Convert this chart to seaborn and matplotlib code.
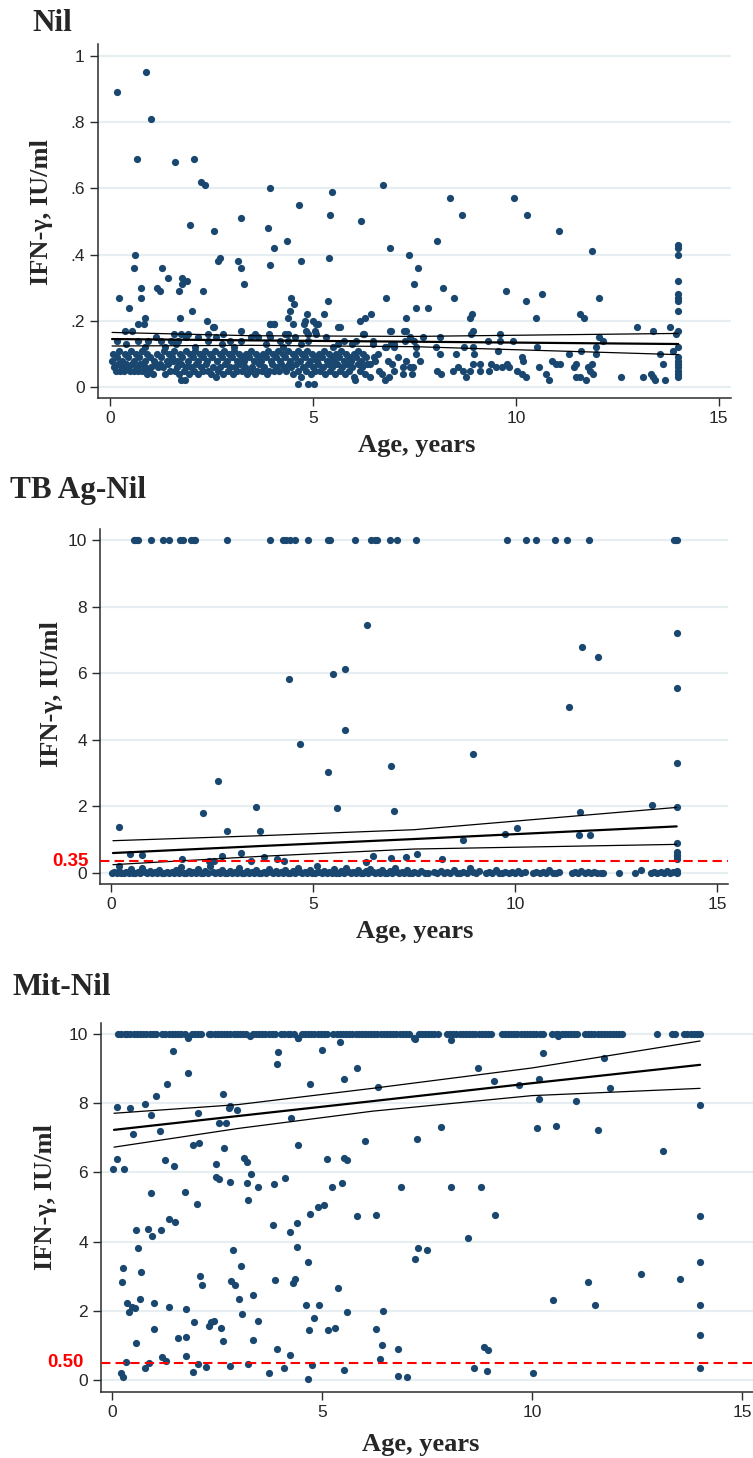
import numpy as np
import pandas as pd
import seaborn as sns
import matplotlib.pyplot as plt
import matplotlib.transforms as mtransforms

W, H = 753, 1458
NAVY = '#1a476f'
GRID = '#e6eef1'

# ---------------- Nil ----------------
nil_outliers = [
    (0.16, .89), (0.89, .95), (1.0, .81), (0.67, .69), (1.6, .68), (2.06, .69), (2.23, .62), (2.34, .61),
    (1.97, .49), (2.55, .47), (3.22, .51), (3.94, .60), (3.89, .48), (4.05, .42), (3.94, .37), (4.37, .44),
    (4.65, .55), (4.71, .38), (5.47, .59), (5.42, .52), (5.39, .39), (5.37, .26), (6.18, .50), (0.62, .40),
    (0.58, .36), (0.21, .27), (0.48, .24), (0.76, .27), (0.76, .30), (1.28, .36), (1.43, .33), (1.15, .30),
    (1.23, .29), (1.78, .33), (1.89, .32), (1.78, .31), (1.69, .29), (2.30, .29), (2.66, .38), (2.71, .39),
    (3.16, .38), (3.22, .36), (3.31, .31), (2.03, .23), (1.73, .21), (0.87, .21), (0.69, .19), (0.83, .19),
    (2.38, .20), (2.55, .18), (4.45, .27), (4.54, .25), (4.44, .23), (4.38, .21), (4.52, .19), (4.85, .22),
    (4.80, .20), (5.26, .22), (5.66, .18), (6.44, .22), (6.15, .20), (6.29, .21), (3.93, .19), (4.05, .19),
    (5.01, .20), (5.12, .19), (0.38, .17), (0.55, .17), (4.62, .01), (4.89, .01), (5.02, .01), (1.75, .02),
    (1.85, .02), (6.03, .02), (6.4, .03), (6.93, .17), (7.24, .17),
    (1.58, .16), (1.76, .16), (1.92, .16), (2.41, .16), (2.54, .18), (2.78, .16), (3.23, .17), (3.56, .16),
    (3.91, .16), (3.93, .19), (4.03, .19), (4.3, .16), (4.38, .16), (5.62, .18), (6.23, .16),
    (4.79, .19), (4.83, .17), (4.87, .16), (5.08, .19), (5.04, .17),
]
nil_mid = [
    (0.16, .14), (0.69, .14), (0.94, .14), (1.14, .15), (1.26, .14), (1.35, .12), (1.51, .14), (1.67, .14),
    (1.88, .15), (2.09, .12), (2.17, .15), (2.41, .14), (2.62, .15), (2.95, .14), (3.23, .14), (3.48, .15),
    (3.64, .15), (3.93, .15), (4.2, .14), (4.26, .12), (4.38, .14), (4.55, .15), (4.88, .14), (5.08, .16),
    (5.33, .15), (5.62, .13), (5.76, .14), (6.07, .14), (6.27, .16), (6.48, .14), (6.77, .12), (6.93, .13),
    (7.26, .14), (7.5, .14), (0.4, .13), (0.85, .12), (1.62, .13), (2.75, .13), (3.05, .12), (3.85, .13),
    (4.7, .13), (5.5, .12), (5.95, .13),
]
nil_low = [
    (0.05, .08), (0.1, .06), (0.14, .05), (0.2, .07), (0.25, .05), (0.3, .06), (0.35, .05), (0.4, .07),
    (0.45, .06), (0.5, .05), (0.55, .07), (0.6, .05), (0.66, .06), (0.7, .05), (0.75, .07), (0.8, .05),
    (0.85, .06), (0.9, .04), (0.95, .05), (1.0, .06), (1.05, .04), (1.12, .07), (1.18, .06), (1.22, .07),
    (1.3, .06), (1.36, .04), (1.42, .07), (1.48, .05), (1.55, .08), (1.6, .05), (1.65, .06), (1.7, .04),
    (1.75, .07), (1.82, .05), (1.88, .06), (1.94, .04), (2.0, .06), (2.06, .05), (2.12, .07), (2.18, .04),
    (2.25, .06), (2.3, .05), (2.36, .07), (2.42, .05), (2.48, .04), (2.54, .06), (2.6, .03), (2.66, .05),
    (2.72, .06), (2.78, .04), (2.84, .07), (2.9, .05), (2.96, .06), (3.02, .04), (3.08, .06), (3.14, .05),
    (3.2, .07), (3.26, .05), (3.32, .06), (3.38, .04), (3.44, .05), (3.5, .06), (3.56, .04), (3.62, .05),
    (3.68, .07), (3.74, .05), (3.8, .06), (3.86, .04), (3.92, .05), (3.98, .07), (4.04, .05), (4.1, .06),
    (4.16, .05), (4.22, .07), (4.28, .06), (4.34, .05), (4.4, .07), (4.46, .06), (4.52, .04), (4.58, .07),
    (4.64, .05), (4.7, .03), (4.76, .06), (4.82, .05), (4.88, .07), (4.94, .04), (5.0, .06), (5.06, .05),
    (5.12, .07), (5.18, .05), (5.24, .06), (5.3, .04), (5.36, .07), (5.42, .05), (5.48, .06), (5.54, .04),
    (5.6, .07), (5.66, .05), (5.72, .06), (5.78, .04), (5.84, .07), (5.9, .05), (5.96, .06), (6.02, .03),
    (6.1, .07), (6.16, .05), (6.22, .06), (6.28, .04), (6.34, .07),
    (0.08, .1), (0.16, .09), (0.22, .11), (0.3, .08), (0.38, .1), (0.44, .09), (0.52, .11), (0.58, .08),
    (0.64, .1), (0.72, .09), (0.78, .11), (0.86, .08), (0.92, .1), (0.98, .09), (1.08, .08), (1.15, .1),
    (1.25, .09), (1.33, .11), (1.4, .08), (1.46, .1), (1.52, .09), (1.58, .11), (1.64, .08), (1.72, .1),
    (1.78, .09), (1.86, .11), (1.92, .08), (1.98, .1), (2.04, .09), (2.1, .11), (2.16, .08), (2.22, .1),
    (2.28, .09), (2.34, .11), (2.4, .08), (2.46, .1), (2.52, .09), (2.58, .11), (2.64, .08), (2.7, .1),
    (2.76, .09), (2.82, .11), (2.88, .08), (2.94, .1), (3.0, .09), (3.06, .11), (3.12, .08), (3.18, .1),
    (3.24, .09), (3.3, .08), (3.36, .1), (3.42, .09), (3.48, .11), (3.54, .08), (3.6, .1), (3.66, .09),
    (3.72, .08), (3.78, .1), (3.84, .09), (3.9, .11), (3.96, .08), (4.02, .1), (4.08, .09), (4.14, .11),
    (4.2, .08), (4.26, .1), (4.32, .09), (4.38, .11), (4.44, .08), (4.5, .1), (4.56, .09), (4.62, .11),
    (4.68, .08), (4.74, .1), (4.8, .09), (4.86, .11), (4.92, .08), (4.98, .1), (5.04, .09), (5.1, .08),
    (5.16, .1), (5.22, .09), (5.28, .11), (5.34, .08), (5.4, .1), (5.46, .09), (5.52, .08), (5.58, .1),
    (5.64, .09), (5.7, .11), (5.76, .08), (5.82, .1), (5.88, .09), (5.94, .08), (6.0, .1), (6.06, .09),
    (6.12, .11), (6.18, .08), (6.24, .1), (6.3, .09),
]
nil_right = [
    (6.73, .61), (6.89, .42), (6.79, .27), (7.36, .40), (7.60, .36), (7.48, .31), (7.55, .24), (7.83, .24),
    (8.06, .44), (8.38, .57), (8.68, .52), (8.21, .30), (8.48, .27), (8.91, .22), (8.88, .21), (7.29, .21),
    (9.96, .57), (10.28, .52), (9.75, .29), (10.25, .26), (10.64, .28), (10.49, .21), (11.06, .47), (11.88, .41),
    (12.05, .27), (11.57, .22), (11.67, .21), (12.99, .18), (13.39, .17), (13.79, .18), (13.86, .11), (13.95, .16),
    (6.89, .17), (7.29, .17), (7.4, .15), (7.7, .15), (8.12, .15), (8.94, .17), (8.89, .16), (9.6, .16),
    (9.32, .14), (9.93, .14), (9.6, .14), (12.05, .15), (12.15, .14), (11.98, .12), (11.98, .10), (11.6, .11),
    (11.3, .10), (10.53, .12), (9.55, .11), (13.54, .10), (7.55, .12), (7.54, .10), (8.04, .12), (8.13, .10),
    (8.52, .10), (8.73, .12), (8.94, .12), (8.98, .10), (6.99, .13), (6.99, .12), (6.79, .12), (6.47, .13),
    (6.5, .09), (6.52, .08), (6.4, .07), (6.85, .08), (6.94, .07), (7.29, .08), (7.22, .06), (7.38, .06),
    (7.46, .06), (7.63, .08), (6.99, .05), (6.87, .03), (6.77, .02), (6.63, .05), (7.21, .04), (8.05, .05),
    (8.16, .04), (8.46, .05), (8.58, .06), (8.70, .05), (8.78, .03), (8.86, .05), (8.94, .07), (9.11, .07),
    (9.11, .05), (9.33, .05), (9.39, .07), (9.50, .06), (9.67, .06), (9.78, .07), (9.84, .06), (10.03, .05),
    (10.14, .04), (10.16, .09), (10.18, .08), (10.26, .03), (10.57, .06), (10.74, .04), (10.81, .02), (10.9, .08),
    (11.0, .07), (11.08, .07), (11.43, .06), (11.49, .07), (11.49, .03), (11.59, .03), (11.72, .02), (11.78, .06),
    (11.82, .05), (11.88, .07), (11.9, .04), (12.58, .03), (13.14, .03), (13.34, .04), (13.38, .03), (13.43, .02),
    (13.63, .07), (13.67, .02), (6.6, .1), (6.7, .04), (7.1, .09), (7.45, .04),
    (14.0, .43), (14.0, .42), (14.0, .40), (14.0, .32), (14.0, .28), (14.0, .27), (14.0, .26), (14.0, .23),
    (14.0, .17), (14.0, .12), (14.0, .09), (14.0, .08), (14.0, .07), (14.0, .06), (14.0, .05), (14.0, .04),
    (14.0, .03),
]
nil_fit_age = [0.05, 3.5, 7.5, 14.0]
nil_fit = [0.145, 0.141, 0.137, 0.130]
nil_lo = [0.124, 0.126, 0.122, 0.098]
nil_hi = [0.165, 0.155, 0.153, 0.162]

# ---------------- TB Ag-Nil ----------------
tb_capped_age = [0.56, 0.6, 0.64, 0.68, 0.99, 1.29, 1.44, 1.72, 1.78, 1.98, 2.05, 2.09, 2.88, 3.94, 4.26,
                 4.34, 4.42, 4.55, 4.88, 5.36, 5.43, 6.03, 6.44, 6.53, 6.58, 6.9, 7.07, 7.54, 9.79, 10.26,
                 10.52, 11.0, 11.29, 11.84, 13.94, 13.98, 14.0]
tb_outliers = [
    (0.21, 1.37), (0.48, .57), (0.77, .55), (2.29, 1.80), (2.66, 2.77), (2.88, 1.26), (2.76, .52), (3.23, .60),
    (3.59, 1.97), (3.69, 1.26), (3.8, .48), (3.47, .35), (4.1, .42), (4.29, .35), (4.41, 5.83), (4.69, 3.87),
    (5.38, 3.02), (5.5, 5.99), (5.6, 1.94), (5.8, 6.13), (5.8, 4.29), (6.34, 7.44), (6.49, .52), (6.3, .32),
    (1.76, .42), (2.42, .35), (2.54, .35), (6.92, 3.22), (7.01, 1.85), (8.95, 3.58), (8.71, 1.0), (9.74, 1.18),
    (10.06, 1.34), (11.34, 4.97), (11.65, 6.79), (12.05, 6.49), (11.6, 1.82), (11.59, 1.14), (11.86, 1.14),
    (13.39, 2.05), (14.0, 7.2), (14.0, 5.57), (14.0, 3.31), (14.0, 1.97), (14.0, .9), (14.0, .62), (14.0, .55),
    (14.0, .5), (14.0, .42), (6.92, .46), (7.29, .48), (7.58, .57), (8.19, .42), (13.12, .1), (0.21, .21),
]
tb_band = [
    (0.02, 0), (0.08, .02), (0.14, 0), (0.2, .05), (0.26, .01), (0.32, 0), (0.38, .03), (0.44, 0), (0.5, .12),
    (0.55, .01), (0.6, 0), (0.66, .04), (0.72, 0), (0.78, .15), (0.84, .02), (0.9, 0), (0.96, .06), (1.02, 0),
    (1.08, .03), (1.14, 0), (1.2, .1), (1.26, .01), (1.32, 0), (1.38, .04), (1.44, 0), (1.5, .02), (1.56, 0),
    (1.62, .08), (1.68, 0), (1.74, .18), (1.8, .01), (1.86, 0), (1.92, .05), (1.98, 0), (2.04, .03), (2.1, 0),
    (2.16, .12), (2.22, .01), (2.28, 0), (2.34, .06), (2.4, 0), (2.46, .2), (2.52, .02), (2.58, 0), (2.64, .04),
    (2.7, 0), (2.76, .1), (2.82, .01), (2.88, 0), (2.94, .05), (3.0, 0), (3.06, .02), (3.12, 0), (3.18, .14),
    (3.24, .01), (3.3, 0), (3.36, .06), (3.42, 0), (3.48, .03), (3.54, 0), (3.6, .09), (3.66, .01), (3.72, 0),
    (3.78, .04), (3.84, 0), (3.9, .12), (3.96, .02), (4.02, 0), (4.08, .05), (4.14, 0), (4.2, .03), (4.26, 0),
    (4.32, .1), (4.38, .01), (4.44, 0), (4.5, .06), (4.56, 0), (4.62, .15), (4.68, .02), (4.74, 0), (4.8, .04),
    (4.86, 0), (4.92, .08), (4.98, .01), (5.04, 0), (5.1, .2), (5.16, .02), (5.22, 0), (5.28, .05), (5.34, 0),
    (5.4, .03), (5.46, 0), (5.52, .11), (5.58, .01), (5.64, 0), (5.7, .06), (5.76, 0), (5.82, .16), (5.88, .02),
    (5.94, 0), (6.0, .04), (6.06, 0), (6.12, .09), (6.18, .01), (6.24, 0), (6.3, .05), (6.36, 0), (6.42, .13),
    (6.48, .02), (6.54, 0), (6.6, .03), (6.66, 0), (6.72, .1), (6.78, .01), (6.84, 0), (6.9, .06), (6.96, 0),
    (7.02, .15), (7.08, .02), (7.14, 0), (7.2, .04), (7.26, 0), (7.32, .08), (7.38, .01), (7.44, 0), (7.5, .03),
    (7.6, 0), (7.68, .05), (7.76, .01), (7.84, 0), (8.0, .02), (8.08, 0), (8.16, .06), (8.24, 0), (8.32, .02),
    (8.4, 0), (8.48, .1), (8.56, .01), (8.64, 0), (8.72, .04), (8.8, 0), (8.88, .14), (8.96, .02), (9.04, 0),
    (9.12, .05), (9.28, 0), (9.36, .03), (9.44, 0), (9.52, .08), (9.6, .01), (9.68, 0), (9.76, .04), (9.84, 0),
    (9.92, .02), (10.0, 0), (10.08, .06), (10.16, 0), (10.24, .02), (10.45, 0), (10.53, .04), (10.61, 0),
    (10.69, .02), (10.77, 0), (10.85, .1), (10.93, .01), (11.01, 0), (11.09, .03), (11.4, 0), (11.48, .02),
    (11.56, 0), (11.64, .05), (11.72, 0), (11.8, .02), (11.88, 0), (11.96, .04), (12.04, 0), (12.12, .01),
    (12.18, 0), (12.58, 0), (12.96, 0), (13.36, 0), (13.44, .03), (13.52, 0), (13.6, .02), (13.68, 0),
    (13.76, .05), (13.84, 0), (13.92, .02), (14.0, 0), (14.0, .05),
]
tb_fit_age = [0.05, 3.7, 7.5, 14.0]
tb_fit = [0.60, 0.81, 1.02, 1.40]
tb_lo = [0.25, 0.50, 0.72, 0.86]
tb_hi = [0.97, 1.12, 1.30, 1.97]
tb_cutoff = 0.35

# ---------------- Mit-Nil ----------------
mit_capped_age = [
    0.15, 0.22, 0.3, 0.37, 0.44, 0.52, 0.6, 0.67, 0.75, 0.82, 0.9, 0.97, 1.05, 1.2, 1.27, 1.35, 1.42, 1.5,
    1.58, 1.65, 1.73, 1.9, 1.97, 2.05, 2.12, 2.3, 2.37, 2.45, 2.52, 2.6, 2.67, 2.75, 2.82, 2.9, 2.97, 3.05,
    3.12, 3.2, 3.36, 3.43, 3.5, 3.58, 3.65, 3.73, 3.8, 3.88, 4.03, 4.1, 4.18, 4.25, 4.33, 4.52, 4.6, 4.67,
    4.75, 4.82, 4.9, 4.97, 5.05, 5.12, 5.27, 5.35, 5.42, 5.5, 5.57, 5.65, 5.72, 5.8, 5.87, 5.95, 6.02, 6.1,
    6.17, 6.25, 6.32, 6.4, 6.47, 6.55, 6.62, 6.7, 6.77, 6.85, 6.92, 7.0, 7.07, 7.3, 7.37, 7.45, 7.52, 7.6,
    7.67, 7.75, 7.98, 8.05, 8.13, 8.2, 8.28, 8.35, 8.43, 8.5, 8.58, 8.65, 8.73, 8.8, 8.88, 8.95, 9.02, 9.28,
    9.35, 9.43, 9.5, 9.58, 9.65, 9.73, 9.8, 9.88, 9.95, 10.03, 10.1, 10.18, 10.26, 10.48, 10.56, 10.63, 10.71,
    10.78, 10.86, 10.93, 11.01, 11.08, 11.26, 11.33, 11.41, 11.48, 11.56, 11.63, 11.71, 11.78, 11.86, 11.93,
    12.01, 12.08, 12.15, 12.98, 13.32, 13.4, 13.62, 13.7, 13.78, 13.86, 13.93, 14.0,
]
mit_points = [
    (0.02, 6.11), (0.12, 7.9), (0.13, 6.4), (0.28, 6.11), (0.26, 3.23), (0.25, 2.84), (0.21, .19), (0.26, .08),
    (0.33, .53), (0.44, 7.87), (0.51, 7.12), (0.37, 2.22), (0.41, 1.97), (0.48, 2.12), (0.56, 2.07), (0.58, 4.34),
    (0.63, 3.82), (0.58, 1.06), (0.66, 2.34), (0.70, 3.11), (0.78, 7.99), (0.78, .34), (0.89, .5), (0.87, 4.35),
    (0.93, 5.39), (0.93, 7.66), (0.95, 4.17), (1.0, 2.22), (0.99, 1.48), (1.04, 8.22), (1.14, 7.21), (1.17, 4.34),
    (1.19, .65), (1.29, .56), (1.26, 6.37), (1.31, 8.55), (1.37, 4.66), (1.37, 2.12), (1.46, 9.52), (1.48, 6.19),
    (1.49, 4.56), (1.58, 1.2), (1.73, 5.42), (1.77, 2.06), (1.76, 1.23), (1.76, .7), (1.81, 8.87), (1.93, 6.79),
    (1.93, .22), (1.95, 1.66), (2.02, 5.1), (2.05, 7.72), (2.05, .46), (2.08, 6.85), (2.1, 2.99), (2.14, 2.75),
    (2.23, .38), (2.32, 1.56), (2.36, 1.66), (2.42, 1.69), (2.47, 6.23), (2.47, 5.88), (2.56, 5.82), (2.59, 1.5),
    (2.56, 7.42), (2.64, 8.28), (2.66, 6.7), (2.64, 1.12), (2.71, 7.42), (2.79, 7.87), (2.82, 7.92), (2.81, 5.72),
    (2.82, .4), (2.83, 2.85), (2.88, 3.77), (2.94, 2.73), (2.98, 7.8), (3.02, 2.33), (3.08, 3.29), (3.1, 1.9),
    (3.14, 6.41), (3.22, 6.3), (3.22, 5.68), (3.25, 5.21), (3.23, .46), (3.3, 5.95), (3.35, 2.46), (3.35, 1.15),
    (3.48, 5.57), (3.48, 1.69), (3.75, .19), (3.83, 4.47), (3.86, 5.66), (3.87, 2.89), (3.93, .89), (3.94, 9.13),
    (3.96, 9.47), (4.09, .35), (4.13, 5.84), (4.25, 4.28), (4.26, 7.57), (4.25, .72), (4.3, 2.81), (4.35, 2.93),
    (4.4, 3.83), (4.4, 4.53), (4.43, 6.78), (4.44, 9.9), (4.63, 2.18), (4.67, 3.4), (4.67, .04), (4.7, 1.45),
    (4.71, 8.57), (4.72, 4.8), (4.77, .42), (4.82, 1.8), (4.91, 5.0), (4.92, 2.18), (4.99, 9.55), (5.04, 5.06),
    (5.12, 6.38), (5.14, 1.43), (5.24, 5.57), (5.32, 1.5), (5.39, 2.66), (5.43, 9.78), (5.48, 5.68), (5.52, 6.41),
    (5.52, .29), (5.53, 8.69), (5.6, 6.35), (5.6, 1.97), (5.83, 9.03), (5.83, 4.74), (6.02, 6.92), (6.29, 4.78),
    (6.29, 1.48), (6.33, 8.46), (6.38, .6), (6.46, 1.98), (6.43, 1.0), (6.87, 5.57), (7.27, 6.97), (7.21, 3.5),
    (7.29, 3.82), (7.49, 3.76), (6.82, .88), (6.8, .11), (7.02, .08), (7.83, 7.3), (8.07, 5.57), (8.48, 4.11),
    (8.71, 9.03), (8.79, 5.57), (8.62, .34), (8.85, .94), (8.95, .87), (8.93, .26), (9.1, 8.64), (9.13, 4.77),
    (9.7, 8.54), (10.03, .19), (10.11, 7.28), (10.16, 8.69), (10.17, 8.11), (10.25, 9.44), (10.5, 2.31),
    (10.58, 7.33), (11.04, 8.07), (11.34, 2.82), (11.49, 2.16), (11.58, 7.24), (11.71, 9.32), (11.85, 8.43),
    (12.6, 3.07), (13.12, 6.63), (13.52, 2.92), (14.0, 7.96), (14.0, 4.74), (14.0, 3.42), (14.0, 2.18),
    (14.0, 1.29), (14.0, .35), (7.22, 9.87), (8.07, 9.84), (10.63, 9.94), (1.81, 9.88), (3.28, 9.93),
    (4.43, 9.88), (7.2, 9.88),
]
mit_fit_age = [0.05, 3.0, 6.2, 10.0, 14.0]
mit_fit = [7.23, 7.63, 8.06, 8.58, 9.11]
mit_lo = [6.73, 7.27, 7.77, 8.22, 8.43]
mit_hi = [7.71, 7.96, 8.43, 9.02, 9.80]
mit_cutoff = 0.50


sns.set_style('white')
plt.rcParams['font.family'] = ['Liberation Sans', 'DejaVu Sans']
SERIF = ['Liberation Serif', 'DejaVu Serif']

fig = plt.figure(figsize=(W / 100, H / 100), dpi=100)


def box(l, t, r, b):
    return [l / W, 1 - b / H, (r - l) / W, (b - t) / H]


def panel(rect, pts, fit_age, fit, lo, hi, xlim, ylim, yticks, yticklabels):
    ax = fig.add_axes(box(*rect))
    df = pd.DataFrame(pts, columns=['age', 'ifn'])
    sns.scatterplot(data=df, x='age', y='ifn', ax=ax, color=NAVY, s=27, linewidth=0,
                    legend=False, zorder=3)
    fd = pd.DataFrame({'age': fit_age, 'fit': fit, 'lo': lo, 'hi': hi})
    for col, lw in (('lo', 0.9), ('hi', 0.9), ('fit', 1.6)):
        sns.lineplot(data=fd, x='age', y=col, ax=ax, color='black', linewidth=lw,
                     estimator=None, sort=False, zorder=4)
    ax.set_xlim(*xlim)
    ax.set_ylim(*ylim)
    ax.set_xticks([0, 5, 10, 15])
    ax.set_yticks(yticks)
    ax.set_yticklabels(yticklabels)
    ax.set_xlabel('')
    ax.set_ylabel('')
    ax.grid(axis='y', color=GRID, linewidth=1.6)
    ax.set_axisbelow(True)
    sns.despine(ax=ax)
    for s in ('left', 'bottom'):
        ax.spines[s].set_color('#2b2b2b')
        ax.spines[s].set_linewidth(1.1)
    ax.tick_params(axis='both', direction='out', length=5.5, width=1.0, color='#2b2b2b',
                   labelsize=12.5, pad=4, left=True, bottom=True)
    return ax


def cutoff_line(ax, value, label, x_right):
    ax.axhline(value, color='red', linestyle=(0, (4.5, 2.5)), linewidth=1.5, zorder=5)
    tr = mtransforms.blended_transform_factory(fig.transFigure, ax.transData)
    ax.text(x_right / W, value, label, transform=tr, ha='right', va='center',
            color='red', fontsize=13.5, fontweight='bold')


nil_pts = nil_outliers + nil_mid + nil_low + nil_right
ax1 = panel((98, 44, 731, 398), nil_pts, nil_fit_age, nil_fit, nil_lo, nil_hi,
            (-0.296, 15.30), (-0.033, 1.036),
            [0, .2, .4, .6, .8, 1], ['0', '.2', '.4', '.6', '.8', '1'])

tb_pts = [(a, 10) for a in tb_capped_age] + tb_outliers + tb_band
ax2 = panel((100, 529, 728, 884), tb_pts, tb_fit_age, tb_fit, tb_lo, tb_hi,
            (-0.27, 15.27), (-0.33, 10.33), [0, 2, 4, 6, 8, 10], ['0', '2', '4', '6', '8', '10'])
cutoff_line(ax2, tb_cutoff, '0.35', 89)

mit_pts = [(a, 10) for a in mit_capped_age] + mit_points
ax3 = panel((101, 1023, 753, 1392), mit_pts, mit_fit_age, mit_fit, mit_lo, mit_hi,
            (-0.26, 15.26), (-0.35, 10.32), [0, 2, 4, 6, 8, 10], ['0', '2', '4', '6', '8', '10'])
cutoff_line(ax3, mit_cutoff, '0.50', 84)

# titles and axis labels
for txt, x, y in (('Nil', 32, 31), ('TB Ag-Nil', 10, 498), ('Mit-Nil', 13, 995)):
    fig.text(x / W, 1 - y / H, txt, ha='left', va='baseline', family=SERIF,
             fontweight='bold', fontsize=22.5)
for x, y in ((42, 212), (52, 694), (46, 1197)):
    fig.text(x / W, 1 - y / H, 'IFN-γ, IU/ml', rotation=90, ha='center', va='center',
             family=SERIF, fontweight='bold', fontsize=19)
for x, y in ((417, 452), (415, 938), (421, 1451)):
    fig.text(x / W, 1 - y / H, 'Age, years', ha='center', va='baseline',
             family=SERIF, fontweight='bold', fontsize=19)

fig.savefig('out.png', dpi=100)
